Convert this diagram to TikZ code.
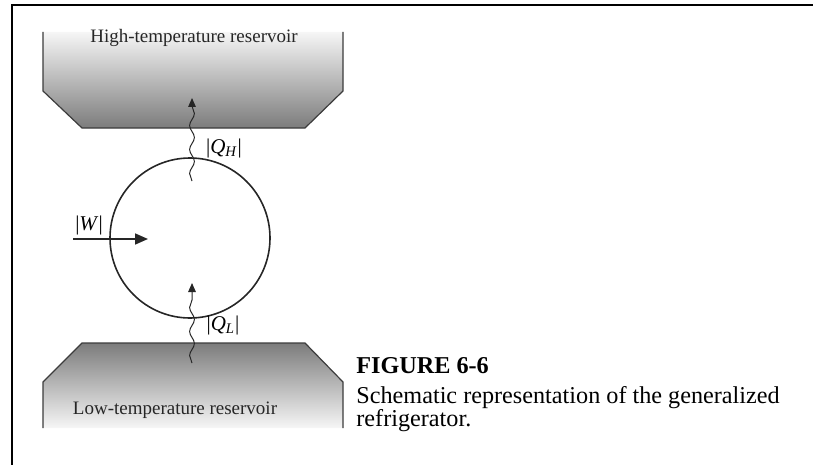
\documentclass[tikz,border=0pt]{standalone}
\usepackage{fontspec}
\setmainfont{Liberation Serif}
\usetikzlibrary{
  arrows.meta,
  positioning,
  calc,
  decorations.pathmorphing
}
\definecolor{rsEdge}{HTML}{3C3C3C}
\definecolor{rsShade}{HTML}{7C7C7C}
\definecolor{rsPale}{HTML}{F6F6F6}
\tikzset{
  reservoir/.style={draw=rsEdge, line width=0.6pt},
  restext/.style={font=\fontsize{9.5}{11}\selectfont, text=black!85, inner sep=1pt},
  cyclebox/.style={draw=black!85, circle, line width=0.8pt, minimum size=80pt, inner sep=0pt},
  heatflow/.style={
    decorate, decoration={snake, amplitude=1.2pt, segment length=12pt, post length=4pt},
    line width=0.5pt, black!85, -{Triangle[length=4.5pt, width=3.8pt]}
  },
  workflow/.style={line width=0.8pt, black!85, -{Triangle[length=6.5pt, width=5.5pt]}},
  qlabel/.style={font=\fontsize{10.5}{12}\selectfont, inner sep=1pt},
  frameline/.style={line width=1.2pt}
}

\begin{document}
\begin{tikzpicture}[x=0.5pt, y=-0.5pt]
  \useasboundingbox (0,0) rectangle (813,465);
  % page frame
  \draw[frameline] (12,465) -- (12,5) -- (813,5);
  % reservoirs
  \shade[top color=rsPale, bottom color=rsShade]
    (43,32) -- (43,91) -- (82,128) -- (305,128) -- (343,91) -- (343,32) -- cycle;
  \draw[reservoir] (43,32) -- (43,91) -- (82,128) -- (305,128) -- (343,91) -- (343,32);
  \shade[top color=rsShade, bottom color=rsPale]
    (43,428) -- (43,382) -- (82,343) -- (305,343) -- (343,382) -- (343,428) -- cycle;
  \draw[reservoir] (43,428) -- (43,382) -- (82,343) -- (305,343) -- (343,382) -- (343,428);
  \node[restext] (hot) at (194,38) {High-temperature reservoir};
  \node[restext] (cold) at (175,410) {Low-temperature reservoir};
  % cycle
  \node[cyclebox] (cycle) at (190,238) {};
  \coordinate (qhfrom) at (192,181);
  \coordinate (qhto) at (192,98);
  \coordinate (qlfrom) at (192,363);
  \coordinate (qlto) at (192,283);
  \coordinate (wfrom) at (73,239);
  \coordinate (wto) at (148,239);
  \draw[heatflow] (qhfrom) -- (qhto);
  \draw[heatflow] (qlfrom) -- (qlto);
  \draw[workflow] (wfrom) -- (wto);
  \node[qlabel] (qh) at (224,148) {|\textit{Q}\textsubscript{\textit{H}}|};
  \node[qlabel] (ql) at (223,325) {|\textit{Q}\textsubscript{\textit{L}}|};
  \node[qlabel] (w) at (89,225) {|\textit{W}|};
  % caption
  \node[anchor=north west, align=left, inner sep=0pt, font=\fontsize{12.1}{11.8}\selectfont] (cap) at (356,357)
    {\textbf{FIGURE 6-6}\\[3pt]Schematic representation of the generalized\\refrigerator.};
\end{tikzpicture}
\end{document}
